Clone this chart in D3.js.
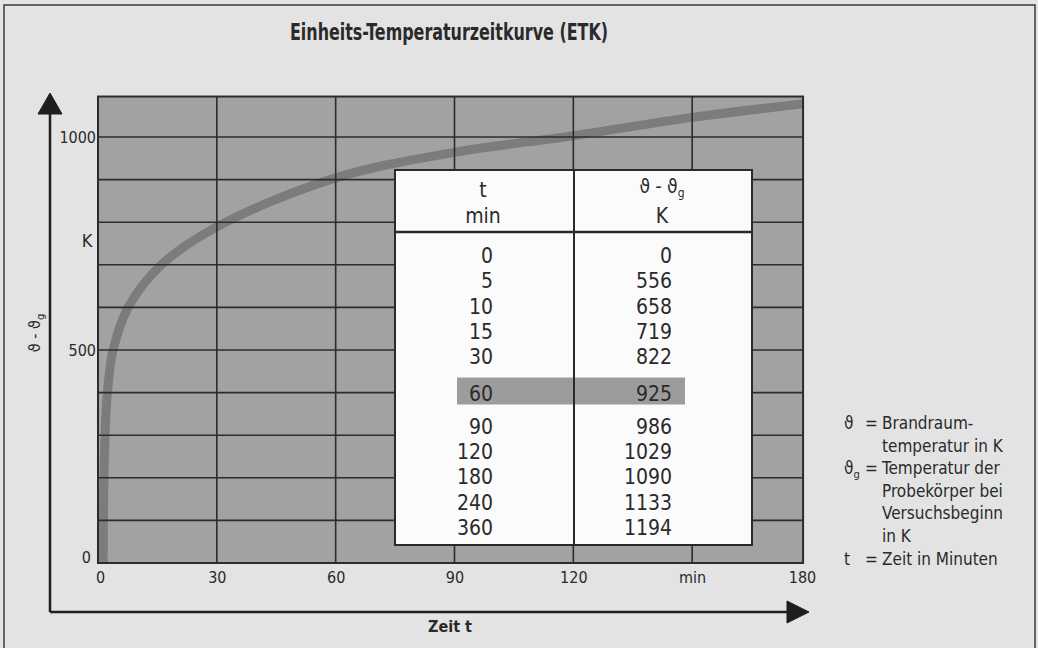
<!DOCTYPE html>
<html>
<head>
<meta charset="utf-8">
<script src="https://cdn.jsdelivr.net/npm/d3@7"></script>
<style>
    body { margin: 0; background: #e3e3e3; }
    svg { display: block; }
    text { font-family: "Liberation Sans Narrow", "Arial Narrow", "DejaVu Sans Condensed", sans-serif; fill: #2a2a2a; }
</style>
</head>
<body>
<div id="chart"></div>
<script>
// table values: time in min, temperature rise in K
const tableMinutes = [0, 5, 10, 15, 30, 60, 90, 120, 180, 240, 360];
const tableKelvin = [0, 556, 658, 719, 822, 925, 986, 1029, 1090, 1133, 1194];
const highlightMinute = 60;

// points
const curveMinutes = [1.3, 1.5, 2.0, 2.8, 3.8, 7.6, 16, 30, 60, 90, 120, 150, 180];
const curveKelvin = [0, 200, 350, 440, 500, 600, 700, 789, 904, 964, 1003, 1046, 1080];

// axes
const xTicks = [0, 30, 60, 90, 120, 150, 180];
const xTickLabels = ["0", "30", "60", "90", "120", "min", "180"];
const xGrid = [30, 60, 90, 120, 150];
const yTicks = [0, 500, 1000];
const yGrid = [100, 200, 300, 400, 500, 600, 700, 800, 900, 1000];
const xEnd = 178;   // plot stops a bit before 180
const yEnd = 1095;

// legend lines: symbol, subscript, text
const legendSymbols = ["ϑ", "", "ϑ", "", "", "", "t"];
const legendSubs = ["", "", "g", "", "", "", ""];
const legendTexts = ["Brandraum-", "temperatur in K", "Temperatur der", "Probekörper bei", "Versuchsbeginn", "in K", "Zeit in Minuten"];

const width = 1038, height = 648;

const svg = d3.select("#chart").append("svg")
    .attr("width", width)
    .attr("height", height);

// page background + frame
svg.append("rect").attr("width", width).attr("height", height).attr("fill", "#e3e3e3");
svg.append("path")
    .attr("d", "M4,660 L4,5 L1035,5 L1035,660")
    .attr("fill", "none").attr("stroke", "#3a3a3a").attr("stroke-width", 1.5);

// title
svg.append("text")
    .attr("x", 449).attr("y", 40)
    .attr("text-anchor", "middle")
    .attr("font-size", 23).attr("font-weight", "bold")
    .attr("textLength", 318).attr("lengthAdjust", "spacingAndGlyphs")
    .attr("fill", "#1a1a1a")
    .text("Einheits-Temperaturzeitkurve (ETK)");

// scales
const x = d3.scaleLinear().domain([0, 180]).range([98, 811]);
const y = d3.scaleLinear().domain([0, 1000]).range([563, 137]);

const plotLeft = x(0), plotRight = x(xEnd), plotTop = y(yEnd), plotBottom = y(0);

// plot area
svg.append("rect")
    .attr("x", plotLeft).attr("y", plotTop)
    .attr("width", plotRight - plotLeft).attr("height", plotBottom - plotTop)
    .attr("fill", "#a2a2a2");

svg.append("clipPath").attr("id", "plot-clip")
    .append("rect")
    .attr("x", plotLeft).attr("y", plotTop)
    .attr("width", plotRight - plotLeft).attr("height", plotBottom - plotTop);

// ETK curve
const curveData = curveMinutes.map((t, i) => ({t: t, k: curveKelvin[i]}));
const line = d3.line()
    .x(d => x(d.t))
    .y(d => y(d.k))
    .curve(d3.curveCatmullRom.alpha(0.5));

svg.append("path")
    .datum(curveData)
    .attr("clip-path", "url(#plot-clip)")
    .attr("d", line)
    .attr("fill", "none")
    .attr("stroke", "#7c7c7c")
    .attr("stroke-width", 9);

// grid
const grid = svg.append("g").attr("stroke", "#2c2c2c").attr("stroke-width", 1.6);
grid.selectAll(".hgrid").data(yGrid).enter().append("line")
    .attr("x1", plotLeft).attr("x2", plotRight)
    .attr("y1", d => y(d)).attr("y2", d => y(d));
grid.selectAll(".vgrid").data(xGrid).enter().append("line")
    .attr("x1", d => x(d)).attr("x2", d => x(d))
    .attr("y1", plotTop).attr("y2", plotBottom);
svg.append("rect")
    .attr("x", plotLeft).attr("y", plotTop)
    .attr("width", plotRight - plotLeft).attr("height", plotBottom - plotTop)
    .attr("fill", "none").attr("stroke", "#2c2c2c").attr("stroke-width", 2);

// axis labels
const xAxis = svg.append("g")
    .attr("transform", `translate(0, ${plotBottom})`)
    .call(d3.axisBottom(x).tickValues(xTicks).tickFormat((d, i) => xTickLabels[i]).tickSize(0).tickPadding(9));
xAxis.select(".domain").remove();
xAxis.selectAll("text")
    .attr("font-size", 16).attr("font-family", null).attr("fill", "#333")
    .attr("dx", d => d === 180 ? -9 : (d === 0 ? 2 : 0));

const yAxis = svg.append("g")
    .attr("transform", `translate(${plotLeft}, 0)`)
    .call(d3.axisLeft(y).tickValues(yTicks).tickFormat(d3.format("d")).tickSize(0).tickPadding(2));
yAxis.select(".domain").remove();
yAxis.selectAll("text")
    .attr("font-size", 16).attr("font-family", null).attr("fill", "#333")
    .attr("dx", d => d === 0 ? -5 : 0)
    .attr("dy", d => d === 0 ? "-0.05em" : "0.32em");

svg.append("text")
    .attr("x", 87).attr("y", 247)
    .attr("text-anchor", "middle")
    .attr("font-size", 18)
    .text("K");

const yTitle = svg.append("text")
    .attr("transform", "translate(40, 333) rotate(-90)")
    .attr("text-anchor", "middle")
    .attr("font-size", 16);
yTitle.append("tspan").text("ϑ - ϑ");
yTitle.append("tspan").attr("font-size", 11).attr("dy", 4).text("g");

svg.append("text")
    .attr("x", 450).attr("y", 632)
    .attr("text-anchor", "middle")
    .attr("font-size", 16).attr("font-weight", "bold")
    .text("Zeit t");

// axis arrows
const arrows = svg.append("g").attr("stroke", "#1e1e1e").attr("fill", "#1e1e1e");
arrows.append("path")
    .attr("d", "M50,612 L50,110 M50,612 L790,612")
    .attr("fill", "none").attr("stroke-width", 2.5);
arrows.append("path").attr("d", "M50,93 L62,114 L38,114 Z").attr("stroke-width", 1);
arrows.append("path").attr("d", "M809,612 L787,601 L787,623 Z").attr("stroke-width", 1);

// value table
const table = svg.append("g");
const tLeft = 395, tRight = 752, tTop = 170, tBottom = 545, tDiv = 574, tHead = 232;

table.append("rect")
    .attr("x", tLeft).attr("y", tTop)
    .attr("width", tRight - tLeft).attr("height", tBottom - tTop)
    .attr("fill", "#fbfbfb").attr("stroke", "#2a2a2a").attr("stroke-width", 2);

// row positions (gap around the highlighted row)
const rowY = i => 263 + i * 25.3 + (i >= 5 ? 11 : 0) + (i >= 6 ? 8 : 0);
const hiIndex = tableMinutes.indexOf(highlightMinute);

table.append("rect")
    .attr("x", 457).attr("y", rowY(hiIndex) - 23)
    .attr("width", 228).attr("height", 27)
    .attr("fill", "#9c9c9c");

table.append("line")
    .attr("x1", tDiv).attr("x2", tDiv).attr("y1", tTop).attr("y2", tBottom)
    .attr("stroke", "#2a2a2a").attr("stroke-width", 2);
table.append("line")
    .attr("x1", tLeft).attr("x2", tRight).attr("y1", tHead).attr("y2", tHead)
    .attr("stroke", "#2a2a2a").attr("stroke-width", 2.5);

// header
table.append("text").attr("x", 483).attr("y", 197).attr("text-anchor", "middle").attr("font-size", 21).text("t");
table.append("text").attr("x", 483).attr("y", 223).attr("text-anchor", "middle").attr("font-size", 21).text("min");
const head2 = table.append("text").attr("x", 662).attr("y", 193).attr("text-anchor", "middle").attr("font-size", 19);
head2.append("tspan").text("ϑ - ϑ");
head2.append("tspan").attr("font-size", 12).attr("dy", 4).text("g");
table.append("text").attr("x", 662).attr("y", 223).attr("text-anchor", "middle").attr("font-size", 21).text("K");

table.selectAll(".tmin").data(tableMinutes).enter().append("text")
    .attr("x", 493).attr("y", (d, i) => rowY(i))
    .attr("text-anchor", "end").attr("font-size", 21)
    .text(d => d);
table.selectAll(".tkel").data(tableKelvin).enter().append("text")
    .attr("x", 672).attr("y", (d, i) => rowY(i))
    .attr("text-anchor", "end").attr("font-size", 21)
    .text(d => d);

// legend on the right
const legend = svg.append("g").attr("font-size", 17);
legendTexts.forEach((txt, i) => {
    const ly = 429 + i * 22.6;
    if (legendSymbols[i]) {
        const s = legend.append("text").attr("x", 844).attr("y", ly);
        s.append("tspan").text(legendSymbols[i]);
        if (legendSubs[i]) s.append("tspan").attr("font-size", 11).attr("dy", 4).text(legendSubs[i]);
        legend.append("text").attr("x", 865).attr("y", ly).text("=");
    }
    legend.append("text").attr("x", 882).attr("y", ly).text(txt);
});
</script>
</body>
</html>
